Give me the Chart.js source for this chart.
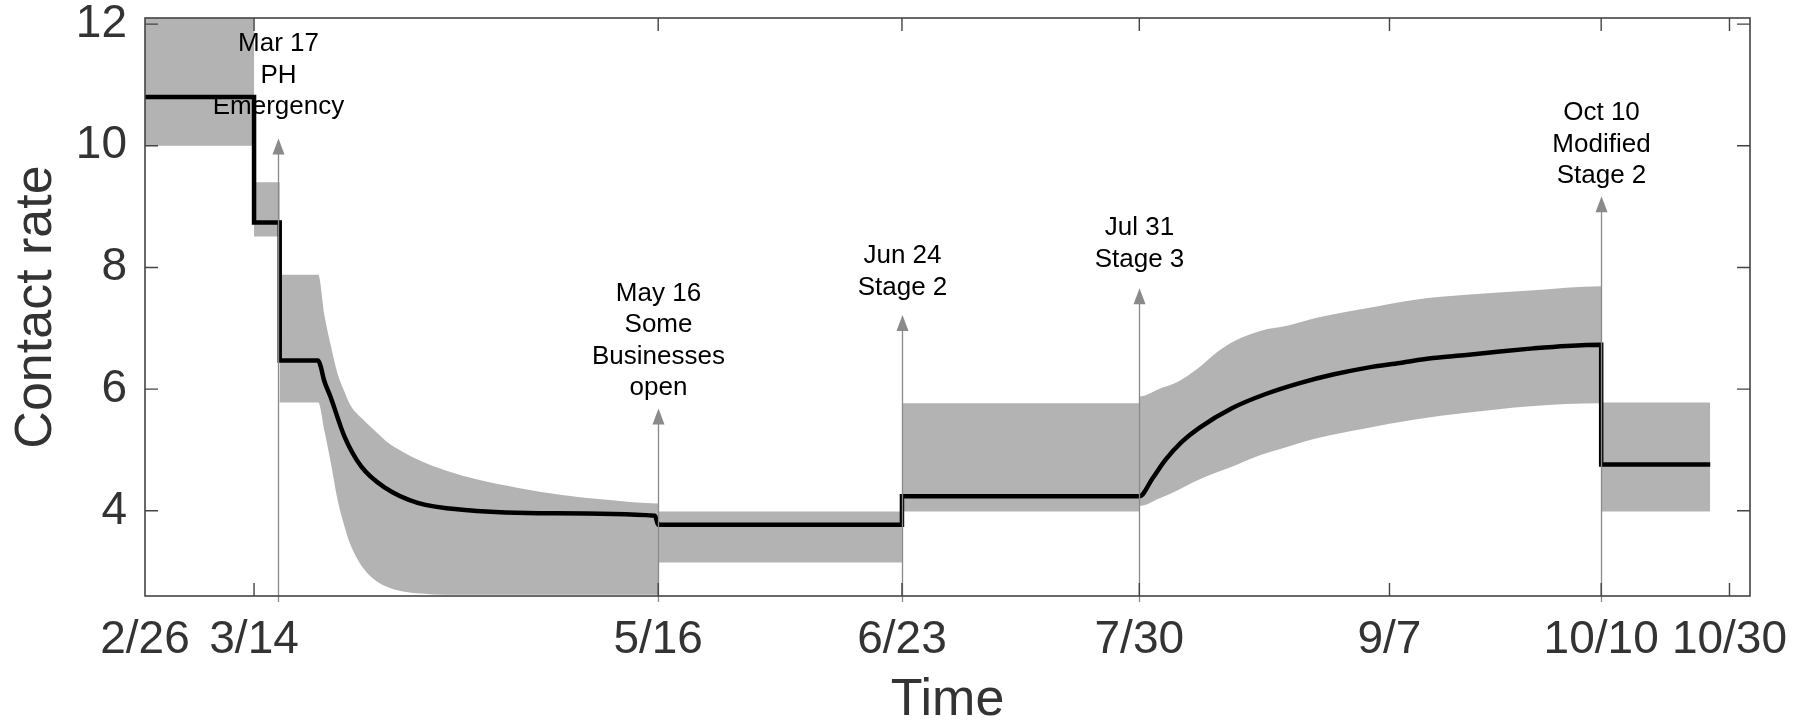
<!DOCTYPE html>
<html>
<head>
<meta charset="utf-8">
<script src="https://cdn.jsdelivr.net/npm/chart.js@4/dist/chart.umd.min.js"></script>
<style>
  html, body { margin: 0; padding: 0; background: #fff; }
  #wrap { width: 1799px; height: 724px; }
</style>
</head>
<body>
<div id="wrap"><canvas id="rateChart"></canvas></div>
<script>
// days counted from 2/26
const tickDays = [0, 17, 80, 118, 155, 194, 227, 247];
const tickLabels = ["2/26", "3/14", "5/16", "6/23", "7/30", "9/7", "10/10", "10/30"];
const yTicks = [4, 6, 8, 10, 12];

// mean contact rate (black step/curve)
const meanDays = [0, 17, 17, 21, 21, 27, 27.4, 27.9, 28.9, 31.1, 33.7, 37.4, 42.5, 50.4, 63.3, 79.5, 80, 118, 118, 155,
  157.1, 159.1, 161.7, 164.3, 169.5, 174.7, 180, 185.2, 190.4, 195.6, 200.8, 206, 211.2, 216.4, 221.6, 227, 227, 244];
const meanRate = [10.8, 10.8, 8.74, 8.74, 6.47, 6.47, 6.37, 6.15, 5.88, 5.22, 4.73, 4.38, 4.13, 4.01, 3.96, 3.92, 3.77, 3.77, 4.24, 4.24,
  4.54, 4.84, 5.14, 5.36, 5.69, 5.92, 6.10, 6.24, 6.35, 6.43, 6.51, 6.56, 6.62, 6.67, 6.71, 6.73, 4.76, 4.76];

// uncertainty band (grey)
const bandDays = [0, 17, 17, 21, 21, 27, 28, 29, 30, 31, 32, 34, 36, 38, 40, 43, 47, 52, 58, 65, 72, 80, 80, 118, 118, 155, 155,
  158, 161, 164, 167, 170, 174, 178, 183, 190, 198, 206, 216, 227, 227, 244];
const bandUpper = [12.3, 12.3, 9.40, 9.40, 7.88, 7.88, 7.2, 6.7, 6.26, 5.98, 5.74, 5.5, 5.3, 5.11, 4.98, 4.82, 4.66, 4.51, 4.38, 4.26, 4.18, 4.12, 3.99, 3.99, 5.77, 5.77, 5.88,
  6.0, 6.12, 6.33, 6.6, 6.8, 6.96, 7.04, 7.18, 7.32, 7.47, 7.55, 7.62, 7.69, 5.78, 5.78];
const bandLower = [10.0, 10.0, 8.51, 8.51, 5.78, 5.78, 5.3, 4.77, 4.19, 3.78, 3.45, 3.06, 2.85, 2.74, 2.68, 2.64, 2.62, 2.62, 2.62, 2.62, 2.62, 2.62, 3.15, 3.15, 3.99, 3.99, 4.08,
  4.2, 4.34, 4.5, 4.63, 4.75, 4.92, 5.05, 5.2, 5.35, 5.5, 5.61, 5.72, 5.77, 3.99, 3.99];

// event arrows
const eventDays = [20.7, 80, 118, 155, 227];
const eventTips = [10.12, 5.68, 7.22, 7.66, 9.17];
const eventTextTop = [11.67, 7.57, 8.19, 8.65, 10.54];
const eventLabels = [
  ["Mar 17", "PH", "Emergency"],
  ["May 16", "Some", "Businesses", "open"],
  ["Jun 24", "Stage 2"],
  ["Jul 31", "Stage 3"],
  ["Oct 10", "Modified", "Stage 2"]
];

const FONT = '"Liberation Sans", Arial, Helvetica, sans-serif';
const toPoints = (xs, ys) => xs.map((d, i) => ({ x: d, y: ys[i] }));

// box, inward ticks and event arrows
const framePlugin = {
  id: "frame",
  afterDatasetsDraw(chart) {
    const { ctx, chartArea: a, scales: { x, y } } = chart;
    ctx.save();

    // arrows
    eventDays.forEach((d, i) => {
      const px = Math.round(x.getPixelForValue(d)) + 0.5;
      const tip = y.getPixelForValue(eventTips[i]);
      ctx.strokeStyle = "#8a8a8a";
      ctx.lineWidth = 1.3;
      ctx.beginPath();
      ctx.moveTo(px, tip + 10);
      ctx.lineTo(px, a.bottom + 6);
      ctx.stroke();
      ctx.fillStyle = "#8a8a8a";
      ctx.beginPath();
      ctx.moveTo(px, tip);
      ctx.lineTo(px - 6, tip + 16);
      ctx.lineTo(px + 6, tip + 16);
      ctx.closePath();
      ctx.fill();

      ctx.fillStyle = "#000";
      ctx.font = "26px " + FONT;
      ctx.textAlign = "center";
      ctx.textBaseline = "middle";
      const top = y.getPixelForValue(eventTextTop[i]);
      eventLabels[i].forEach((line, j) => ctx.fillText(line, px, top + j * 31.5));
    });

    // box
    ctx.strokeStyle = "#444";
    ctx.lineWidth = 1.6;
    ctx.strokeRect(a.left, a.top, a.right - a.left, a.bottom - a.top);

    // inward ticks on all four sides
    const tl = 13;
    ctx.lineWidth = 1.4;
    ctx.beginPath();
    tickDays.forEach(d => {
      const px = x.getPixelForValue(d);
      if (px <= a.left + 1 || px >= a.right - 1) return;
      ctx.moveTo(px, a.bottom); ctx.lineTo(px, a.bottom - tl);
      ctx.moveTo(px, a.top); ctx.lineTo(px, a.top + tl);
    });
    yTicks.forEach(v => {
      const py = y.getPixelForValue(v);
      ctx.moveTo(a.left, py); ctx.lineTo(a.left + tl, py);
      ctx.moveTo(a.right, py); ctx.lineTo(a.right - tl, py);
    });
    ctx.stroke();
    ctx.restore();
  }
};

const ctx = document.getElementById("rateChart").getContext("2d");
new Chart(ctx, {
  type: "line",
  data: {
    datasets: [
      {
        label: "Contact rate",
        data: toPoints(meanDays, meanRate),
        borderColor: "#000",
        borderWidth: 4.5,
        pointRadius: 0,
        fill: false,
        cubicInterpolationMode: "monotone"
      },
      {
        label: "upper",
        data: toPoints(bandDays, bandUpper),
        borderWidth: 0,
        borderColor: "rgba(0,0,0,0)",
        backgroundColor: "#b3b3b3",
        pointRadius: 0,
        fill: "+1",
        cubicInterpolationMode: "monotone"
      },
      {
        label: "lower",
        data: toPoints(bandDays, bandLower),
        borderWidth: 0,
        borderColor: "rgba(0,0,0,0)",
        pointRadius: 0,
        fill: false,
        cubicInterpolationMode: "monotone"
      }
    ]
  },
  options: {
    responsive: true,
    maintainAspectRatio: false,
    animation: false,
    layout: { padding: { left: 0, right: 49, top: 18, bottom: 0 } },
    plugins: {
      legend: { display: false },
      tooltip: { enabled: false }
    },
    scales: {
      x: {
        type: "linear",
        min: 0,
        max: 250.2,
        grid: { display: false, drawTicks: false },
        border: { display: false },
        afterBuildTicks: s => { s.ticks = tickDays.map(v => ({ value: v })); },
        afterFit: s => { s.height = 128; s.paddingLeft = 0; s.paddingRight = 0; },
        ticks: {
          autoSkip: false,
          maxRotation: 0,
          padding: 17,
          color: "#333",
          font: { family: FONT, size: 46 },
          callback: v => tickLabels[tickDays.indexOf(v)]
        },
        title: {
          display: true,
          text: "Time",
          color: "#333",
          font: { family: FONT, size: 52, lineHeight: 0.9 },
          padding: { top: 0, bottom: 0 }
        }
      },
      y: {
        min: 2.6,
        max: 12.1,
        grid: { display: false, drawTicks: false },
        border: { display: false },
        afterBuildTicks: s => { s.ticks = yTicks.map(v => ({ value: v })); },
        afterFit: s => { s.width = 145; s.paddingTop = 0; s.paddingBottom = 0; },
        ticks: {
          padding: 18,
          color: "#333",
          font: { family: FONT, size: 46 }
        },
        title: {
          display: true,
          text: "Contact rate",
          color: "#333",
          font: { family: FONT, size: 52, lineHeight: 1.2 },
          padding: { top: 5, bottom: 0 }
        }
      }
    }
  },
  plugins: [framePlugin]
});
</script>
</body>
</html>
